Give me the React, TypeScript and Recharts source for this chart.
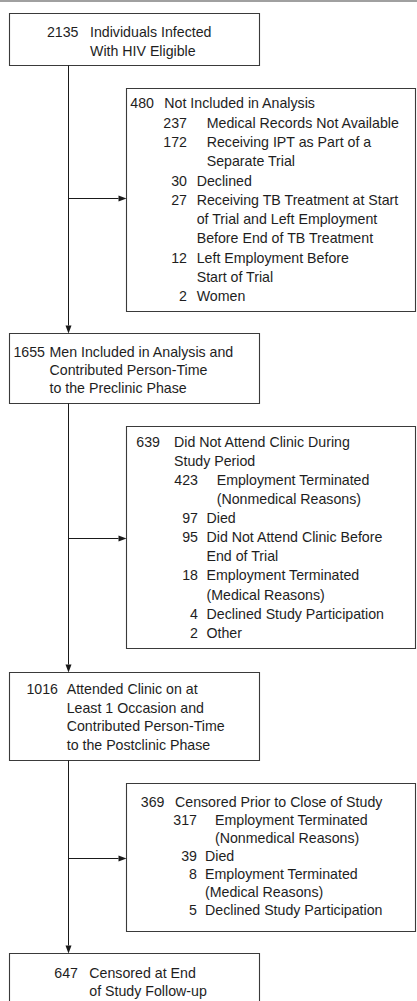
import React from 'react';
import { ScatterChart, Scatter, XAxis, YAxis, ReferenceArea, ReferenceLine } from 'recharts';

// flow counts and labels
const mainCounts = [2135, 1655, 1016, 647];
const mainLabels = [
  ['Individuals Infected', 'With HIV Eligible'],
  ['Men Included in Analysis and', 'Contributed Person-Time', 'to the Preclinic Phase'],
  ['Attended Clinic on at', 'Least 1 Occasion and', 'Contributed Person-Time', 'to the Postclinic Phase'],
  ['Censored at End', 'of Study Follow-up'],
];
const exclusionTotals = [480, 639, 369];
const exclusionLabels = [
  ['Not Included in Analysis'],
  ['Did Not Attend Clinic During', 'Study Period'],
  ['Censored Prior to Close of Study'],
];
const reasonCounts = [
  [237, 172, 30, 27, 12, 2],
  [423, 97, 95, 18, 4, 2],
  [317, 39, 8, 5],
];
const reasonLabels = [
  [
    ['Medical Records Not Available'],
    ['Receiving IPT as Part of a', 'Separate Trial'],
    ['Declined'],
    ['Receiving TB Treatment at Start', 'of Trial and Left Employment', 'Before End of TB Treatment'],
    ['Left Employment Before', 'Start of Trial'],
    ['Women'],
  ],
  [
    ['Employment Terminated', '(Nonmedical Reasons)'],
    ['Died'],
    ['Did Not Attend Clinic Before', 'End of Trial'],
    ['Employment Terminated', '(Medical Reasons)'],
    ['Declined Study Participation'],
    ['Other'],
  ],
  [
    ['Employment Terminated', '(Nonmedical Reasons)'],
    ['Died'],
    ['Employment Terminated', '(Medical Reasons)'],
    ['Declined Study Participation'],
  ],
];

// layout (chart units = pixels)
const W = 417;
const H = 1001;
const TRUNK_X = 68.5;
const FONT = "'Liberation Sans', Arial, Helvetica, sans-serif";
const FONT_SIZE = 14.2;

const mainBoxes = [
  { x1: 9.5, x2: 259.5, y1: 13.5, y2: 65.5, numEnd: 78.5, textX: 90, top: 32.3, gap: 18.4 },
  { x1: 9.5, x2: 259.5, y1: 333.5, y2: 403.5, numEnd: 45, textX: 49.5, top: 351.7, gap: 18.3 },
  { x1: 9.5, x2: 259.5, y1: 672.5, y2: 760.5, numEnd: 58, textX: 66.7, top: 689, gap: 18.7 },
  { x1: 9.5, x2: 259.5, y1: 953.5, y2: 1015, numEnd: 78, textX: 89.3, top: 972.5, gap: 18 },
];
const sideBoxes = [
  { x1: 126.5, x2: 415.5, y1: 88.5, y2: 311.5, arrowY: 198.5, totalEnd: 154, labelX: 164.3, reasonEnd: 187, textX3: 206.7, textX2: 196.7, top: 103.3, gap: 19.3 },
  { x1: 126.5, x2: 415.5, y1: 426.5, y2: 648.5, arrowY: 538.5, totalEnd: 160, labelX: 174, reasonEnd: 198, textX3: 216.7, textX2: 206.5, top: 441.7, gap: 19.1 },
  { x1: 126.5, x2: 415.5, y1: 783.5, y2: 931.5, arrowY: 858.5, totalEnd: 164.5, labelX: 175, reasonEnd: 197, textX3: 215, textX2: 205, top: 801.7, gap: 18.1 },
];

type TextPoint = { x: number; y: number; text: string; anchor: 'start' | 'end' };

const textPoints: TextPoint[] = [];
mainBoxes.forEach((b, i) => {
  textPoints.push({ x: b.numEnd, y: b.top, text: String(mainCounts[i]), anchor: 'end' });
  mainLabels[i].forEach((t, j) => {
    textPoints.push({ x: b.textX, y: b.top + j * b.gap, text: t, anchor: 'start' });
  });
});
sideBoxes.forEach((b, i) => {
  let line = 0;
  textPoints.push({ x: b.totalEnd, y: b.top, text: String(exclusionTotals[i]), anchor: 'end' });
  exclusionLabels[i].forEach((t) => {
    textPoints.push({ x: b.labelX, y: b.top + line * b.gap, text: t, anchor: 'start' });
    line++;
  });
  reasonCounts[i].forEach((n, k) => {
    const tx = n >= 100 ? b.textX3 : b.textX2;
    textPoints.push({ x: b.reasonEnd, y: b.top + line * b.gap, text: String(n), anchor: 'end' });
    reasonLabels[i][k].forEach((t) => {
      textPoints.push({ x: tx, y: b.top + line * b.gap, text: t, anchor: 'start' });
      line++;
    });
  });
});

const arrows: { from: { x: number; y: number }; to: { x: number; y: number } }[] = [];
for (let i = 0; i < mainBoxes.length - 1; i++) {
  arrows.push({ from: { x: TRUNK_X, y: mainBoxes[i].y2 }, to: { x: TRUNK_X, y: mainBoxes[i + 1].y1 } });
}
sideBoxes.forEach((b) => {
  arrows.push({ from: { x: TRUNK_X, y: b.arrowY }, to: { x: b.x1, y: b.arrowY } });
});

const TextMark = (props: any) => {
  const { cx, cy, payload } = props;
  return (
    <text
      x={cx}
      y={cy}
      textAnchor={payload.anchor}
      dominantBaseline="central"
      fontSize={FONT_SIZE}
      fontFamily={FONT}
      fill="#1e1e1e"
    >
      {payload.text}
    </text>
  );
};

const ArrowLine = (props: any) => {
  const { x1, y1, x2, y2 } = props;
  const ang = Math.atan2(y2 - y1, x2 - x1);
  const len = 8;
  const half = 3;
  const bx = x2 - len * Math.cos(ang);
  const by = y2 - len * Math.sin(ang);
  const px = -Math.sin(ang) * half;
  const py = Math.cos(ang) * half;
  return (
    <g>
      <line x1={x1} y1={y1} x2={bx} y2={by} stroke="#1a1a1a" strokeWidth={1} />
      <polygon points={`${x2},${y2} ${bx + px},${by + py} ${bx - px},${by - py}`} fill="#1a1a1a" />
    </g>
  );
};

export default function App() {
  return (
    <div style={{ position: 'absolute', left: 0, top: 0, background: '#fff' }}>
      <ScatterChart width={W} height={H} margin={{ top: 0, right: 0, bottom: 0, left: 0 }}>
        <XAxis type="number" dataKey="x" domain={[0, W]} scale="linear" allowDataOverflow hide />
        <YAxis type="number" dataKey="y" domain={[0, H]} scale="linear" allowDataOverflow reversed hide />
        <ReferenceLine y={1} stroke="#808080" strokeWidth={1.6} ifOverflow="visible" />
        {mainBoxes.map((b, i) => (
          <ReferenceArea key={`m${i}`} x1={b.x1} x2={b.x2} y1={b.y1} y2={b.y2} fill="none" stroke="#3a3a3a" strokeWidth={1.1} ifOverflow="visible" />
        ))}
        {sideBoxes.map((b, i) => (
          <ReferenceArea key={`s${i}`} x1={b.x1} x2={b.x2} y1={b.y1} y2={b.y2} fill="none" stroke="#3a3a3a" strokeWidth={1.1} ifOverflow="visible" />
        ))}
        {arrows.map((a, i) => (
          <ReferenceLine key={`a${i}`} segment={[a.from, a.to]} shape={ArrowLine} ifOverflow="visible" />
        ))}
        <Scatter data={textPoints} dataKey="y" shape={TextMark} isAnimationActive={false} />
      </ScatterChart>
    </div>
  );
}
